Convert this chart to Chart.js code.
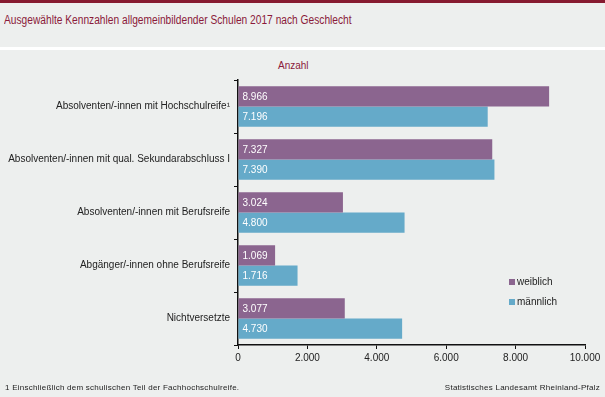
<!DOCTYPE html>
<html>
<head>
<meta charset="utf-8">
<script src="https://cdn.jsdelivr.net/npm/chart.js@4/dist/chart.umd.min.js"></script>
<style>
  html, body { margin: 0; padding: 0; }
  body { width: 605px; height: 397px; position: relative; overflow: hidden; background: #edefee; font-family: "Liberation Sans", Arial, sans-serif; }
  #topbar { position: absolute; left: 0; top: 0; width: 605px; height: 3px; background: #861a30; }
  #title { position: absolute; left: 4px; top: 13px; font-size: 12px; color: #8b1a3a; white-space: nowrap; transform: scaleX(0.85); transform-origin: 0 0; }
  #gap { position: absolute; left: 0; top: 47px; width: 605px; height: 3px; background: #ffffff; }
  #unit { position: absolute; left: 278px; top: 60px; font-size: 10px; color: #8b1a3a; }
  #legend { position: absolute; left: 509px; top: 275px; font-size: 10px; color: #222; }
  #legend div { height: 20px; line-height: 14px; }
  #legend span { display: inline-block; width: 6px; height: 6px; margin-right: 2px; vertical-align: 0px; }
  #foot1 { position: absolute; left: 5px; top: 383px; font-size: 8px; letter-spacing: 0.25px; color: #222; white-space: nowrap; }
  #foot2 { position: absolute; right: 5px; top: 383px; font-size: 8px; letter-spacing: 0.25px; color: #222; white-space: nowrap; }
  canvas { position: absolute; left: 0; top: 0; }
</style>
</head>
<body>
<div id="topbar"></div>
<div id="title">Ausgewählte Kennzahlen allgemeinbildender Schulen 2017 nach Geschlecht</div>
<div id="gap"></div>
<div id="unit">Anzahl</div>
<canvas id="chart" width="605" height="397"></canvas>
<div id="legend"></div>
<div id="foot1">1 Einschließlich dem schulischen Teil der Fachhochschulreife.</div>
<div id="foot2">Statistisches Landesamt Rheinland-Pfalz</div>
<script>
const categories = [
  'Absolventen/-innen mit Hochschulreife¹',
  'Absolventen/-innen mit qual. Sekundarabschluss I',
  'Absolventen/-innen mit Berufsreife',
  'Abgänger/-innen ohne Berufsreife',
  'Nichtversetzte'
];
const weiblich = [8966, 7327, 3024, 1069, 3077];
const maennlich = [7196, 7390, 4800, 1716, 4730];
const seriesNames = ['weiblich', 'männlich'];
const seriesColors = ['#8b658f', '#65aac9'];
const xTicks = [0, 2000, 4000, 6000, 8000, 10000];

function fmt(v) {
  return String(v).replace(/\B(?=(\d{3})+(?!\d))/g, '.');
}

// legend as html
const legend = document.getElementById('legend');
seriesNames.forEach(function (name, i) {
  const row = document.createElement('div');
  row.innerHTML = '<span style="background:' + seriesColors[i] + '"></span>' + name;
  legend.appendChild(row);
});

// values written inside the bars
const barLabels = {
  id: 'barLabels',
  afterDatasetsDraw(chart) {
    const ctx = chart.ctx;
    ctx.save();
    ctx.font = '10px "Liberation Sans", Arial, sans-serif';
    ctx.fillStyle = '#ffffff';
    ctx.textBaseline = 'middle';
    ctx.textAlign = 'left';
    chart.data.datasets.forEach(function (ds, i) {
      chart.getDatasetMeta(i).data.forEach(function (bar, j) {
        ctx.fillText(fmt(ds.data[j]), bar.base + 4, bar.y + 1);
      });
    });
    ctx.restore();
  }
};

const ctx = document.getElementById('chart').getContext('2d');

new Chart(ctx, {
  type: 'bar',
  data: {
    labels: categories,
    datasets: [
      { label: seriesNames[0], data: weiblich, backgroundColor: seriesColors[0] },
      { label: seriesNames[1], data: maennlich, backgroundColor: seriesColors[1] }
    ]
  },
  options: {
    indexAxis: 'y',
    responsive: false,
    animation: false,
    categoryPercentage: 0.76,
    barPercentage: 1.0,
    layout: { padding: { top: 80, right: 20, bottom: 32, left: 0 } },
    plugins: {
      legend: { display: false },
      tooltip: { enabled: false }
    },
    scales: {
      x: {
        min: 0,
        max: 10000,
        afterBuildTicks(scale) {
          scale.ticks = xTicks.map(function (v) { return { value: v }; });
        },
        afterFit(scale) { scale.height = 20; },
        grid: { drawOnChartArea: false, tickLength: 4, color: '#111', lineWidth: 1 },
        border: { color: '#111', width: 1.5 },
        ticks: {
          color: '#222',
          padding: 3,
          font: { size: 10, family: '"Liberation Sans", Arial, sans-serif' },
          callback: function (v) { return fmt(v); }
        }
      },
      y: {
        afterFit(scale) { scale.width = 238; },
        grid: { drawOnChartArea: false, tickLength: 4, color: '#111', lineWidth: 1, offset: true },
        border: { color: '#111', width: 1.5 },
        ticks: {
          color: '#222',
          padding: 4,
          font: { size: 10, family: '"Liberation Sans", Arial, sans-serif' }
        }
      }
    }
  },
  plugins: [barLabels]
});
</script>
</body>
</html>
